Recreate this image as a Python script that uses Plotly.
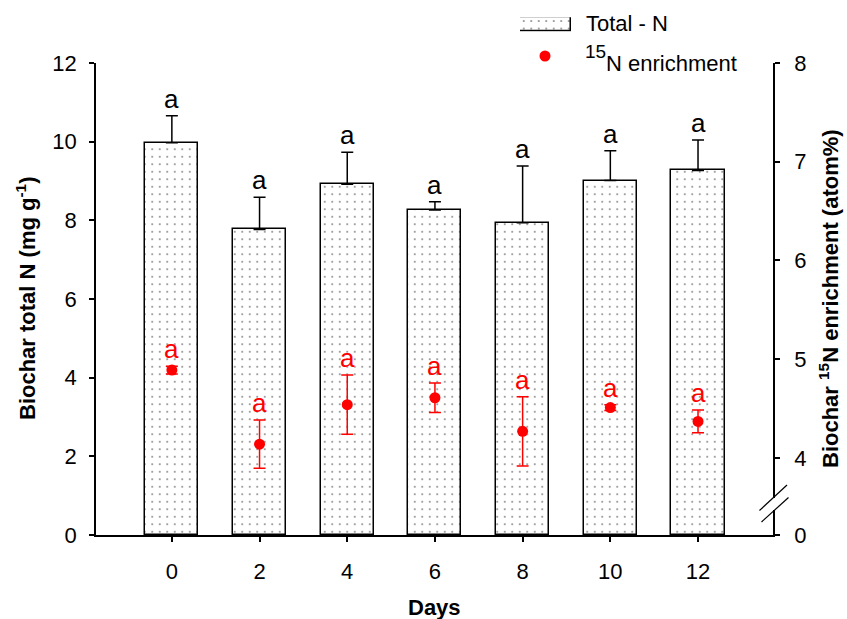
import plotly.graph_objects as go

# Sampling days
days = [0, 2, 4, 6, 8, 10, 12]

# Biochar total N (mg g-1) and standard errors
total_n = [9.97, 7.77, 8.92, 8.26, 7.94, 9.01, 9.27]
total_n_err = [0.69, 0.82, 0.81, 0.21, 1.44, 0.76, 0.77]
total_n_letters = ["a", "a", "a", "a", "a", "a", "a"]

# Biochar 15N enrichment (atom%) and standard errors
enrich = [4.89, 4.14, 4.54, 4.61, 4.27, 4.51, 4.37]
enrich_err = [0.04, 0.245, 0.30, 0.15, 0.35, 0.03, 0.115]
enrich_letters = ["a", "a", "a", "a", "a", "a", "a"]

# Axis ticks
left_ticks = [0, 2, 4, 6, 8, 10, 12]
right_ticks = [4, 5, 6, 7, 8]

W, H = 847, 619
FONT = "Liberation Sans, Arial, sans-serif"

# plot frame in pixels
X0, X1 = 96, 773
Y_TOP, Y_BOT = 63, 535
RIGHT_MIN = 3.22  # bottom of the broken right axis, labelled "0"


def px(x):
    return x / W


def py(y):
    return 1 - y / H


fig = go.Figure()

dots = dict(shape=".", fgcolor="black", bgcolor="white", size=7.5, solidity=0.05)

fig.add_trace(go.Bar(
    x=days, y=total_n, width=1.21,
    marker=dict(color="white", line=dict(color="black", width=1.5), pattern=dots),
    error_y=dict(type="data", array=total_n_err, arrayminus=[0] * len(days),
                 symmetric=False, color="black", thickness=1.5, width=6),
    showlegend=False,
))

fig.add_trace(go.Scatter(
    x=days, y=enrich, yaxis="y2", mode="markers",
    marker=dict(color="red", size=11),
    error_y=dict(type="data", array=enrich_err, color="red", thickness=1.5, width=6),
    showlegend=False,
))

# legend swatch for the bars
fig.add_trace(go.Bar(
    x=[0], y=[1], width=1, xaxis="x3", yaxis="y3",
    marker=dict(color="white", line=dict(color="black", width=1.5), pattern=dots),
    showlegend=False, hoverinfo="skip",
))

axis_font = dict(family=FONT, size=22, color="black")

fig.update_layout(
    width=W, height=H,
    margin=dict(l=0, r=0, t=0, b=0),
    paper_bgcolor="white", plot_bgcolor="white",
    font=dict(family=FONT, color="black"),
    bargap=0,
    xaxis=dict(
        domain=[px(X0), px(X1)], range=[-1.73, 13.71],
        tickvals=days, ticktext=[str(d) for d in days],
        ticks="outside", ticklen=5, tickwidth=1.5, tickcolor="black",
        showline=True, linecolor="black", linewidth=2,
        showgrid=False, zeroline=False, tickfont=axis_font,
        ticklabelstandoff=11, automargin=False,
    ),
    yaxis=dict(
        domain=[py(Y_BOT), py(Y_TOP)], range=[0, 12],
        tickvals=left_ticks, ticks="outside", ticklen=5, tickwidth=1.5,
        tickcolor="black", showline=True, linecolor="black", linewidth=1.5,
        showgrid=False, zeroline=False, tickfont=axis_font,
        ticklabelstandoff=8, automargin=False,
    ),
    yaxis2=dict(
        overlaying="y", side="right", range=[RIGHT_MIN, 8],
        tickvals=[RIGHT_MIN] + right_ticks,
        ticktext=["0"] + [str(t) for t in right_ticks],
        ticks="outside", ticklen=5, tickwidth=1.5, tickcolor="black",
        showline=True, linecolor="black", linewidth=1.5,
        showgrid=False, zeroline=False, tickfont=axis_font,
        ticklabelstandoff=10, automargin=False,
    ),
    xaxis3=dict(domain=[px(520), px(571)], range=[-0.5, 0.5], visible=False,
                anchor="y3", fixedrange=True),
    yaxis3=dict(domain=[py(31.7), py(17.3)], range=[0, 1], visible=False,
                anchor="x3", fixedrange=True),
)

annotations = []
# significance letters above the bars
for d, v, e, t in zip(days, total_n, total_n_err, total_n_letters):
    annotations.append(dict(x=d, y=v + e, xref="x", yref="y", text=t,
                            showarrow=False, yanchor="bottom", yshift=0,
                            font=dict(family=FONT, size=26, color="black")))
# significance letters above the enrichment points
for d, v, e, t in zip(days, enrich, enrich_err, enrich_letters):
    annotations.append(dict(x=d, y=v + e, xref="x", yref="y2", text=t,
                            showarrow=False, yanchor="bottom", yshift=0,
                            font=dict(family=FONT, size=26, color="red")))

title_font = dict(family=FONT, size=22, color="black")
annotations += [
    dict(x=px((X0 + X1) / 2), y=py(607), xref="paper", yref="paper",
         text="<b>Days</b>", showarrow=False, xanchor="center", yanchor="middle",
         font=title_font),
    dict(x=px(26), y=py((Y_TOP + Y_BOT) / 2), xref="paper", yref="paper",
         text="<b>Biochar total N (mg g<sup>-1</sup>)</b>", textangle=-90,
         showarrow=False, xanchor="center", yanchor="middle", font=title_font),
    dict(x=px(829), y=py((Y_TOP + Y_BOT) / 2), xref="paper", yref="paper",
         text="<b>Biochar <sup>15</sup>N enrichment (atom%)</b>", textangle=-90,
         showarrow=False, xanchor="center", yanchor="middle", font=title_font),
    # legend labels
    dict(x=px(584), y=py(24), xref="paper", yref="paper", text="Total - N",
         showarrow=False, xanchor="left", yanchor="middle",
         font=dict(family=FONT, size=22, color="black")),
    dict(x=px(583), y=py(52), xref="paper", yref="paper", text="15",
         showarrow=False, xanchor="left", yanchor="middle",
         font=dict(family=FONT, size=19, color="black")),
    dict(x=px(604), y=py(63), xref="paper", yref="paper", text="N enrichment",
         showarrow=False, xanchor="left", yanchor="middle",
         font=dict(family=FONT, size=22, color="black")),
]

shapes = [
    # legend marker for the enrichment points
    dict(type="circle", xref="paper", yref="paper",
         x0=px(545 - 5.5), x1=px(545 + 5.5), y0=py(56 + 5.5), y1=py(56 - 5.5),
         fillcolor="red", line=dict(color="red", width=0)),
    # axis break on the right axis
    dict(type="line", xref="paper", yref="paper",
         x0=px(X1), x1=px(X1), y0=py(498), y1=py(510),
         line=dict(color="white", width=4)),
    dict(type="line", xref="paper", yref="paper",
         x0=px(759.5), y0=py(510.5), x1=px(787), y1=py(485),
         line=dict(color="black", width=1.2)),
    dict(type="line", xref="paper", yref="paper",
         x0=px(761.5), y0=py(522), x1=px(788.5), y1=py(497.5),
         line=dict(color="black", width=1.2)),
]

fig.update_layout(annotations=annotations, shapes=shapes)

fig.write_html("out.html")
